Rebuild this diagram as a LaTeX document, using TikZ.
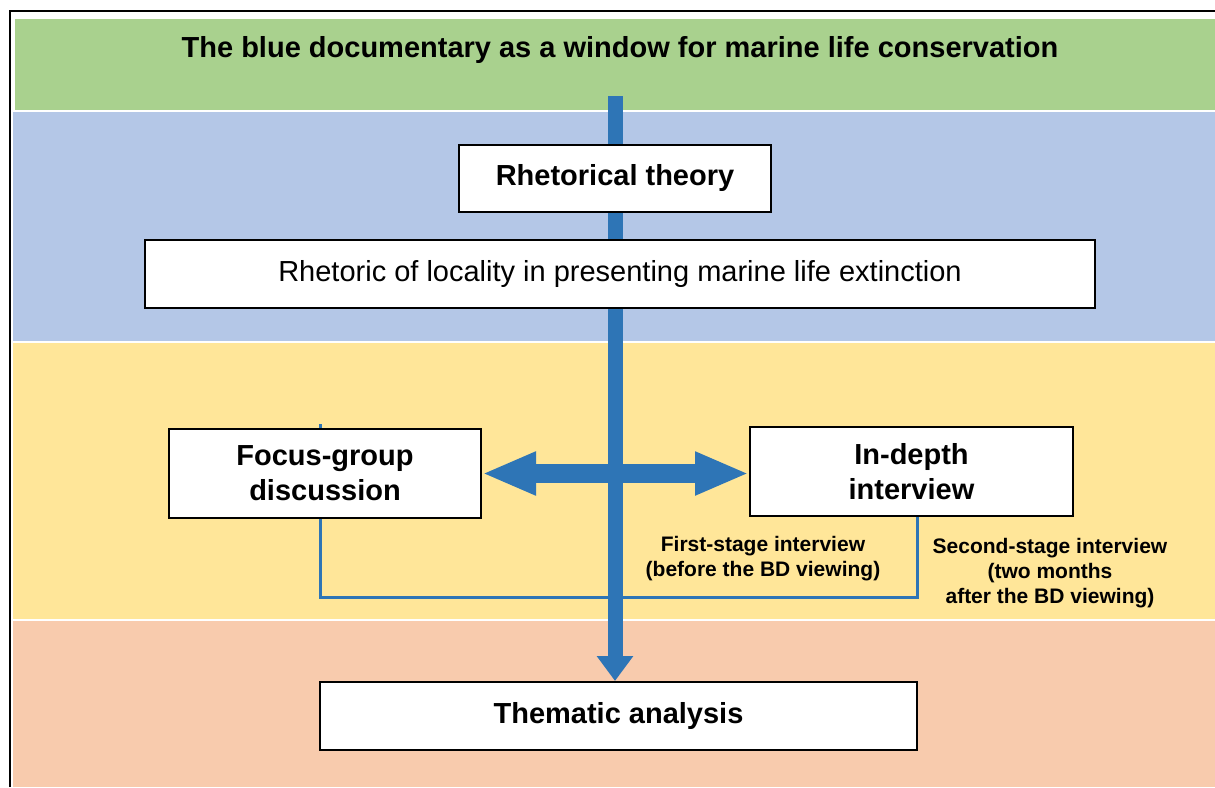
\documentclass[tikz,border=0pt]{standalone}
\usepackage{fontspec}
\setmainfont{Liberation Sans}
\usetikzlibrary{positioning,arrows.meta}
\definecolor{bandgreen}{HTML}{A9D18E}
\definecolor{bandblue}{HTML}{B4C7E7}
\definecolor{bandyellow}{HTML}{FFE699}
\definecolor{bandpeach}{HTML}{F8CBAD}
\definecolor{arrowblue}{HTML}{2E75B6}
\pgfdeclarelayer{bands}
\pgfdeclarelayer{under}
\pgfsetlayers{bands,under,main}

\begin{document}
\begin{tikzpicture}[x=1pt,y=-1pt,
  box/.style={draw,line width=2pt,fill=white,align=center,inner sep=0pt,font=\fontsize{29}{35}\selectfont\bfseries},
  note/.style={align=center,font=\fontsize{21}{25}\selectfont\bfseries},
  link/.style={arrowblue,line width=3pt},
  flow/.style={arrowblue,line width=15pt,-{Triangle[width=35pt,length=25pt]}},
  both/.style={arrowblue,line width=19pt,{Triangle[width=40pt,length=54pt]}-{Triangle[width=40pt,length=54pt]}}]
  \useasboundingbox (0,0) rectangle (1215,787);

  \node[font=\fontsize{29}{35}\selectfont\bfseries] (title) at (620,50) {The blue documentary as a window for marine life conservation};
  \node[box,minimum width=312pt,minimum height=67pt] (rt) at (615,178) {Rhetorical theory};
  \node[box,font=\fontsize{29}{35}\selectfont,minimum width=950pt,minimum height=68pt] (rl) at (620,274) {Rhetoric of locality in presenting marine life extinction};
  \node[box,minimum width=312pt,minimum height=89pt] (fg) at (325,473.5) {Focus-group\\discussion};
  \node[box,minimum width=323pt,minimum height=89pt] (idi) at (911.5,471.5) {In-depth\\interview};
  \node[box,minimum width=597pt,minimum height=68pt] (ta) at (618.5,716) {Thematic analysis};
  \node[note] (first) at (763,559) {First-stage interview\\(before the BD viewing)};
  \node[note] (second) at (1050,573) {Second-stage interview\\(two months\\after the BD viewing)};

  \coordinate (top) at (615,96);
  \coordinate (fgtop) at (320,424);
  \coordinate (lb) at (320,597);
  \coordinate (rb) at (917,597);

  \begin{pgfonlayer}{bands}
    \fill[bandgreen] (15,19) rectangle (1215,110);
    \fill[bandblue] (13,112) rectangle (1215,341);
    \fill[bandyellow] (13,343) rectangle (1215,619);
    \fill[bandpeach] (13,621) rectangle (1215,787);
    \draw[line width=2pt] (10,787) -- (10,11) -- (1215,11);
  \end{pgfonlayer}

  \begin{pgfonlayer}{under}
    \draw[link] (fgtop) -- (lb) -- (rb) -- (rb |- idi.south);
    \draw[flow] (top) -- (top |- ta.north);
  \end{pgfonlayer}

  \draw[both] (fg.east) -- (fg.east -| idi.west);
\end{tikzpicture}
\end{document}
